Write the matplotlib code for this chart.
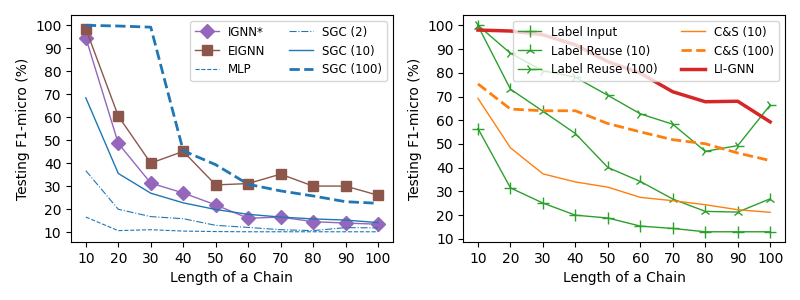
import matplotlib
matplotlib.use("Agg")
import matplotlib.pyplot as plt

x = [10, 20, 30, 40, 50, 60, 70, 80, 90, 100]

# Left panel
ignn = [94.6, 48.6, 31.3, 27.0, 21.8, 16.0, 16.5, 14.5, 13.9, 13.4]
eignn = [98.5, 60.5, 40.0, 45.1, 30.5, 31.1, 35.2, 30.0, 30.0, 26.0]
mlp = [16.5, 10.6, 11.0, 10.4, 10.2, 10.1, 10.1, 10.1, 10.1, 10.1]
sgc2 = [36.7, 19.9, 16.7, 15.8, 12.9, 12.0, 11.0, 10.6, 11.9, 11.8]
sgc10 = [68.4, 35.5, 26.9, 22.7, 19.8, 17.7, 16.5, 15.7, 15.2, 14.1]
sgc100 = [100.0, 99.7, 99.2, 45.4, 39.3, 30.8, 27.9, 25.7, 23.2, 22.5]

# Right panel
label_input = [56.5, 31.5, 25.1, 20.0, 18.8, 15.4, 14.4, 13.0, 13.0, 13.0]
label_reuse10 = [99.8, 73.1, 63.8, 54.4, 40.1, 34.2, 26.8, 21.6, 21.3, 26.9]
label_reuse100 = [100.0, 88.2, 80.9, 78.1, 70.5, 62.7, 58.3, 46.9, 49.3, 66.4]
cs10 = [69.2, 48.4, 37.4, 34.0, 31.8, 27.5, 26.1, 24.4, 22.3, 21.2]
cs100 = [75.3, 64.7, 64.0, 64.0, 58.6, 55.1, 51.8, 50.1, 46.2, 43.0]
ligNN = [98.0, 97.6, 96.0, 91.8, 84.7, 79.8, 72.0, 67.8, 68.0, 59.3]

yticks = [10, 20, 30, 40, 50, 60, 70, 80, 90, 100]

fig, (ax1, ax2) = plt.subplots(1, 2, figsize=(8, 3), dpi=100)
fig.subplots_adjust(left=0.089, right=0.981, top=0.95, bottom=0.193, wspace=0.22)

ax1.plot(x, ignn, color='C4', marker='D', markersize=7, lw=1, label='IGNN*')
ax1.plot(x, eignn, color='C5', marker='s', markersize=7, lw=1, label='EIGNN')
ax1.plot(x, mlp, color='C0', ls='--', lw=0.8, label='MLP')
ax1.plot(x, sgc2, color='C0', ls='-.', lw=0.8, label='SGC (2)')
ax1.plot(x, sgc10, color='C0', ls='-', lw=1, label='SGC (10)')
ax1.plot(x, sgc100, color='C0', ls='--', lw=2, label='SGC (100)')
ax1.set_xticks(x)
ax1.set_yticks(yticks)
ax1.set_xlabel('Length of a Chain')
ax1.set_ylabel('Testing F1-micro (%)')
ax1.legend(ncol=2, loc='upper right', fontsize=8.5)

ax2.plot(x, label_input, color='C2', marker='+', markersize=8, lw=1, label='Label Input')
ax2.plot(x, label_reuse10, color='C2', marker='2', markersize=8, lw=1, label='Label Reuse (10)')
ax2.plot(x, label_reuse100, color='C2', marker='4', markersize=8, lw=1, label='Label Reuse (100)')
ax2.plot(x, cs10, color='C1', ls='-', lw=1, label='C&S (10)')
ax2.plot(x, cs100, color='C1', ls='--', lw=2, label='C&S (100)')
ax2.plot(x, ligNN, color='C3', ls='-', lw=2.5, label='LI-GNN')
ax2.set_xticks(x)
ax2.set_yticks(yticks)
ax2.set_xlabel('Length of a Chain')
ax2.set_ylabel('Testing F1-micro (%)')
ax2.legend(ncol=2, loc='upper right', fontsize=8.5)

fig.savefig('out.png')
